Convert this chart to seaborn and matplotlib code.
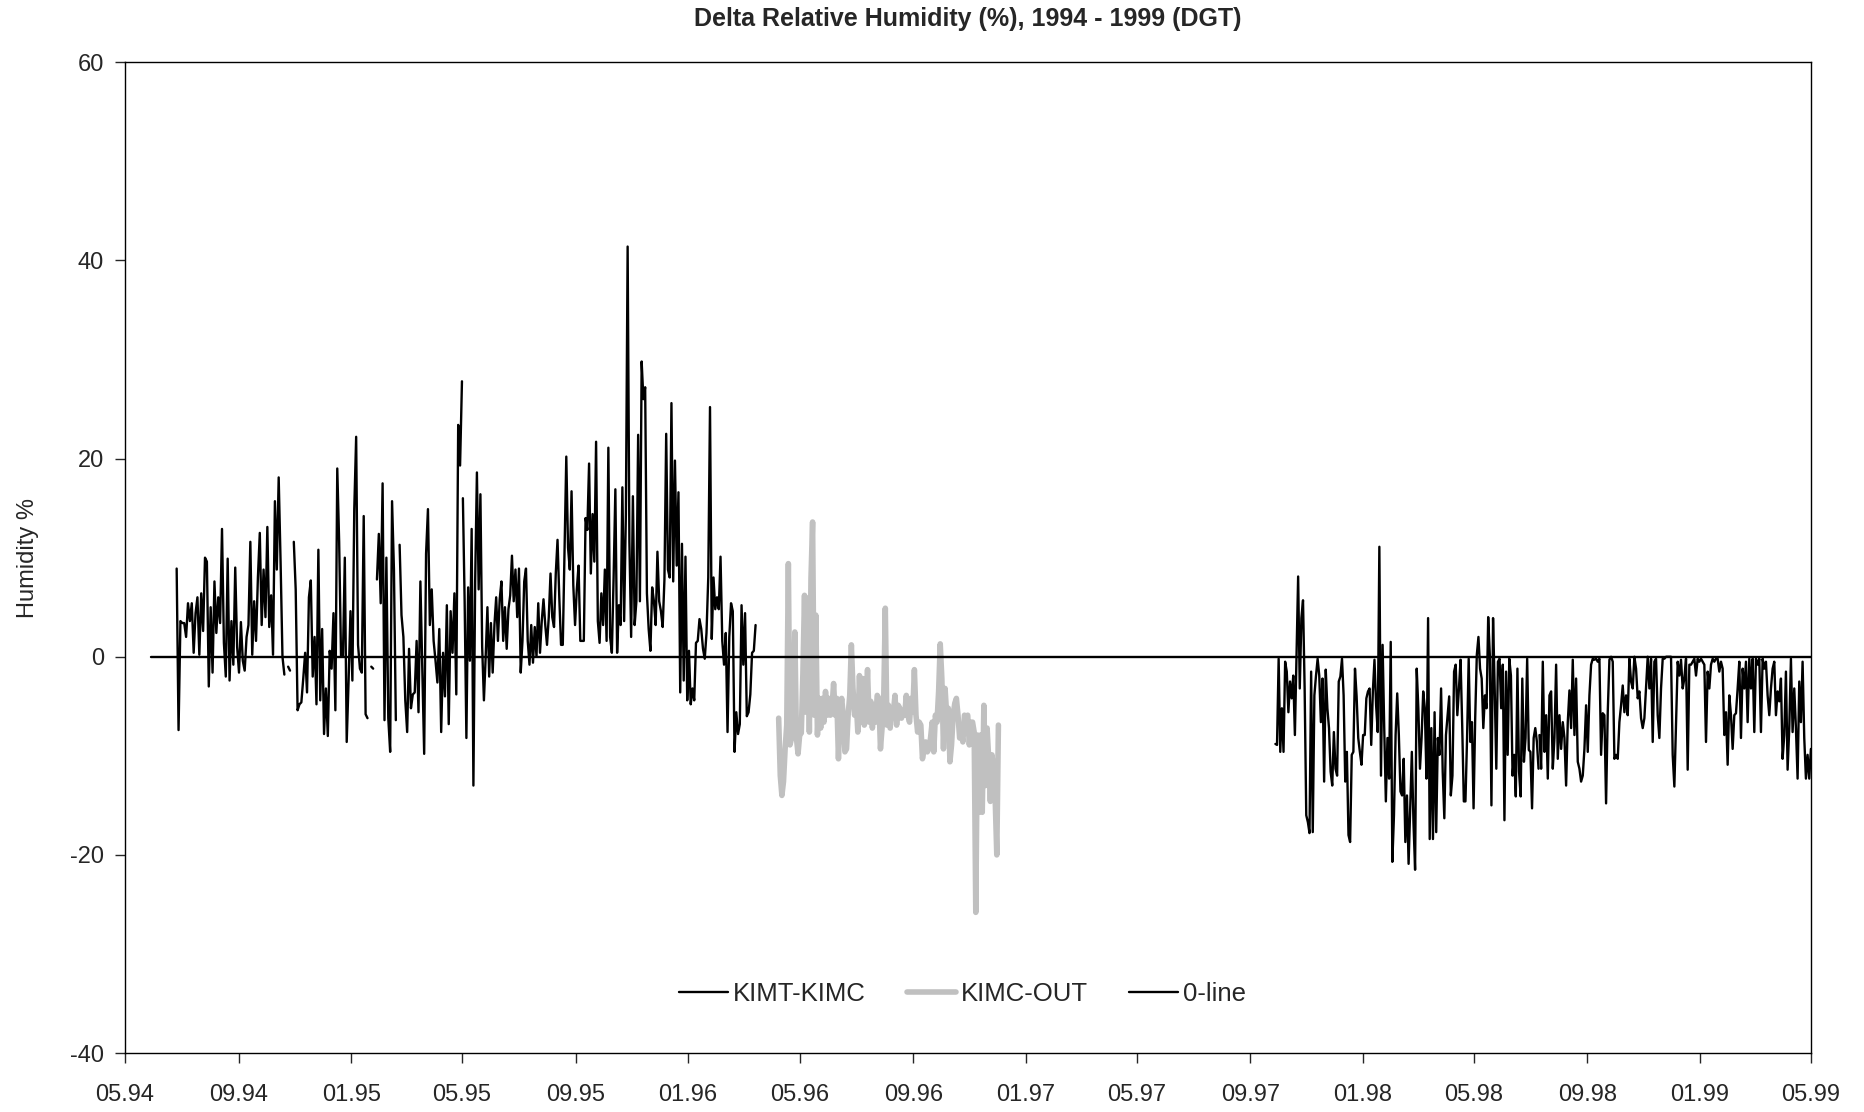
import pandas as pd
import numpy as np
import matplotlib
matplotlib.use("Agg")
import matplotlib.pyplot as plt
import matplotlib.dates as mdates
from matplotlib.lines import Line2D
import seaborn as sns

sns.set_style("ticks")
plt.rcParams["font.family"] = ["Liberation Sans", "DejaVu Sans"]
plt.rcParams["axes.unicode_minus"] = False

nan = np.nan

# KIMT-KIMC, first stretch (06.94 - 05.95)
kimt_a_start, kimt_a_end = "1994-06-26", "1995-05-01"
kimt_a = [
    8.9, -7.4, 3.6, 3.4, 3.4, 2.0, 5.4, 3.6, 5.4, 0.4, 4.4, 6.0, 0.2, 6.4, 2.6, 10.0,
    9.6, -3.0, 5.0, -1.6, 7.6, 2.4, 6.0, 3.4, 12.9, 1.4, -2.0, 9.9, -2.4, 3.6, -0.8,
    9.0, 1.0, -1.6, 3.5, -0.4, -1.4, 2.0, 3.2, 11.6, 0.2, 5.6, 1.6, 8.0, 12.5, 3.2,
    8.8, 4.0, 13.1, 3.0, 6.2, 0.2, 15.7, 8.8, 18.1, 9.6, 0.0, -1.8, nan, -1.0, -1.4,
    nan, 11.6, 6.8, -5.4, -4.8, -4.6, -2.2, 0.4, -3.6, 6.0, 7.7, -2.0, 2.0, -4.8, 10.8,
    -4.4, 2.8, -7.8, -3.2, -8.0, 0.6, -1.2, 4.4, -5.4, 19.0, 11.6, 0.0, 0.0, 10.0, -8.6,
    -2.4, 4.6, -2.4, 14.9, 22.2, 1.2, -1.2, -1.6, 14.2, -5.8, -6.2, nan, -1.0, -1.2, nan,
    7.8, 12.4, 5.4, 17.5, -6.4, 10.0, -6.2, -9.6, 15.7, 8.8, -6.4, nan, 11.3, 4.2, 2.0,
    -4.4, -7.6, 0.8, -5.2, -3.8, -3.6, 1.6, -5.6, 7.6, -1.2, -9.8, 10.4, 14.9, 3.2, 6.8,
    1.6, -0.4, -2.6, 2.8, -7.6, 0.4, -4.0, 5.2, -6.8, 4.6, 0.4, 6.4, -3.8, 23.4, 19.3, 27.8,
]

# KIMT-KIMC, second stretch (05.95 - 03.96)
kimt_b_start, kimt_b_end = "1995-05-02", "1996-03-14"
kimt_b = [
    16.0, 5.6, -8.2, 7.0, -0.4, 12.9, -13.0, 7.6, 18.6, 6.8, 16.4, 1.0, -4.4, 0.0, 5.0,
    -2.0, 3.4, -1.6, 3.2, 6.0, 1.6, 5.8, 7.6, 1.6, 5.0, 0.8, 4.8, 6.2, 10.2, 5.6, 8.8,
    4.0, 8.9, -1.6, 1.6, 7.6, 8.9, 1.6, -0.8, 3.2, -0.6, 3.0, 0.0, 5.4, 0.4, 3.6, 5.8,
    3.2, 1.2, 4.0, 8.4, 4.0, 3.0, 8.4, 11.8, 6.0, 1.2, 1.2, 11.0, 20.2, 11.0, 8.8, 16.7,
    7.2, 3.2, 6.8, 9.2, 1.6, 1.6, 1.6, 14.0, 12.8, 19.5, 8.4, 14.4, 9.6, 21.7, 3.6, 1.4,
    6.4, 3.2, 8.8, 1.6, 21.1, 2.0, 0.4, 8.0, 16.9, 0.4, 5.2, 3.2, 17.1, 3.6, 14.4, 41.4,
    11.6, 2.0, 16.2, 3.2, 5.6, 22.4, 5.6, 29.8, 26.0, 27.2, 6.4, 2.8, 0.6, 7.0, 5.6, 3.2,
    10.6, 5.6, 4.6, 3.0, 7.8, 22.5, 8.8, 8.0, 25.6, 7.6, 19.8, 9.2, 16.6, -3.6, 11.4,
    -2.4, 10.1, -4.4, 0.6, -4.8, -3.2, -4.4, 1.4, 1.6, 3.8, 2.8, 0.8, -0.2, 2.4, 8.0,
    25.2, 1.8, 8.0, 4.8, 6.0, 4.8, 10.1, 1.6, -0.8, 2.4, -7.6, 2.0, 5.4, 4.6, -9.6, -5.6,
    -7.8, -6.8, 5.2, -0.8, 4.4, -6.0, -5.6, -3.8, 0.4, 0.6, 3.2,
]

# KIMC-OUT (04.96 - 12.96)
kimc_start, kimc_end = "1996-04-08", "1996-12-02"
kimc_out = [
    -6.2, -12.0, -14.0, -12.6, -9.3, -6.9, 9.4, -8.9, -8.2, -7.2, 2.5, -8.2, -9.8, -7.9,
    -7.7, -1.7, 6.2, -5.6, 5.9, -7.6, 7.9, 13.6, -5.9, 4.2, -7.9, -4.2, -7.2, -4.2, -6.6,
    -3.5, -5.9, -4.2, -5.9, -5.2, -2.7, -5.9, -4.2, -10.3, -5.6, -4.2, -5.9, -9.6, -9.3,
    -5.9, -3.9, 1.2, -3.2, -5.9, -4.5, -7.6, -1.9, -6.6, -2.2, -6.9, -5.6, -1.3, -6.6,
    -4.5, -7.2, -5.2, -6.6, -3.9, -4.2, -9.3, -7.2, -4.5, 4.9, -6.9, -4.9, -7.2, -5.2,
    -5.6, -3.9, -6.9, -4.9, -5.2, -6.2, -5.6, -5.9, -3.9, -5.9, -6.6, -4.2, -5.6, -1.3,
    -5.9, -7.6, -6.6, -6.9, -10.3, -9.3, -8.6, -9.6, -9.3, -8.2, -6.6, -9.6, -5.9, -6.6,
    -3.5, 1.3, -2.2, -9.3, -3.2, -5.9, -5.2, -10.6, -8.9, -5.9, -4.7, -4.2, -5.9, -8.2,
    -7.6, -8.6, -5.9, -6.2, -5.9, -8.9, -6.6, -6.6, -7.6, -25.8, -7.9, -15.7, -7.9, -15.7,
    -4.9, -13.0, -7.2, -10.3, -14.6, -9.9, -11.3, -14.3, -20.0, -6.9,
]

# KIMT-KIMC, third stretch (09.97 - 07.98)
kimt_c_start, kimt_c_end = "1997-09-28", "1998-07-10"
kimt_c = [
    -8.8, -8.9, -0.2, -9.6, -5.2, -9.6, -0.5, -1.5, -5.6, -2.5, -4.2, -1.9, -7.9, 0.2,
    8.1, -3.2, 3.9, 5.7, -3.2, -16.0, -16.7, -17.8, -1.5, -17.7, -3.9, -1.9, -0.2, -1.9,
    -6.6, -2.2, -12.6, -1.3, -5.2, -7.2, -11.6, -13.0, -7.6, -11.3, -12.0, -2.5, -2.0,
    -0.2, -3.9, -12.6, -9.6, -18.0, -18.7, -9.9, -9.6, -1.2, -4.0, -8.2, -9.6, -10.9,
    -7.9, -7.9, -4.2, -3.5, -3.2, -8.9, -3.5, -0.3, -4.9, -7.6, 11.1, -12.0, 1.2, -7.2,
    -14.6, -8.2, -12.3, 1.5, -20.7, -16.0, -7.9, -3.7, -7.9, -13.6, -14.0, -10.3, -18.7,
    -14.0, -20.9, -15.3, -9.6, -16.7, -21.5, -1.2, -5.2, -11.3, -8.2, -3.5, -5.2, -12.3,
    3.9, -18.4, -7.2, -18.4, -5.6, -17.7, -8.2, -9.9, -3.2, -11.6, -16.3, -7.9, -5.9,
    -4.0, -14.0, -12.0, -1.5, -0.8, -5.9, -3.2, -0.3, -6.9, -14.6, -14.6, -8.2, -0.2,
    -8.6, -6.6, -15.3, -6.2, 0.2, 2.0, -1.2, -2.2, -7.2, -3.9, -5.2, 4.0, 0.2, -15.0,
    3.9, -3.2, -11.3, -0.5, -0.2, -5.2, -0.8, -16.5, -1.5, -9.9, -0.2, -1.9, -12.0, -9.9,
    -14.1, -1.2, -11.6, -14.1, -2.2, -10.6, -8.2, -0.2, -9.4, -9.6, -15.3, -8.2, -7.2,
    -8.6, -11.3,
]

# KIMT-KIMC, fourth stretch (07.98 - 05.99)
kimt_d_start, kimt_d_end = "1998-07-11", "1999-05-01"
kimt_d = [
    -7.9, -11.3, -0.5, -9.6, -5.9, -12.3, -3.9, -3.5, -11.3, -8.2, -0.8, -10.3, -5.9,
    -9.3, -6.6, -8.2, -13.0, -6.6, -3.4, -7.2, -0.3, -7.9, -2.2, -10.6, -11.3, -12.6,
    -12.0, -9.3, -4.9, -9.6, -3.9, -0.8, -0.2, -0.3, -0.2, -0.5, -0.2, -9.9, -5.7, -5.9,
    -14.8, -5.6, -0.3, 0.0, -0.5, -10.3, -9.9, -10.3, -6.6, -4.9, -2.9, -5.6, -3.9, -5.9,
    -0.2, -2.5, -3.2, 0.0, -1.2, -4.2, -3.5, -6.2, -7.2, -6.2, -3.2, 0.0, -3.2, -0.2,
    -8.6, -0.5, -0.2, -5.9, -8.2, -3.2, -0.2, -0.2, 0.0, 0.0, 0.0, 0.0, -9.9, -13.1,
    -6.6, -0.5, -1.9, -0.3, -3.2, -2.2, -0.2, -11.4, -0.8, -0.8, -0.5, -0.2, -1.9, -0.2,
    -0.5, -0.2, -0.5, -0.8, -8.6, -1.5, -3.2, -0.8, -0.2, -0.5, -0.2, -0.2, -1.5, -0.5,
    -1.2, -7.9, -5.6, -10.9, -3.9, -5.9, -9.3, -5.9, -5.7, -3.2, -0.5, -8.2, -1.2, -3.2,
    -0.5, -6.6, -0.2, -3.2, -0.2, -7.6, -0.2, -0.8, -0.2, -7.6, -0.2, -1.2, -0.5, -3.9,
    -5.9, -3.2, -1.2, -0.5, -5.9, -3.5, -4.5, -2.2, -10.3, -7.9, -1.5, -11.4, -7.2, -0.2,
    -7.6, -3.2, -7.2, -12.3, -2.5, -6.6, -0.5, -8.2, -12.3, -9.9, -12.3, -9.3,
]

zero_dates = ["1994-05-29", "1999-05-01"]
zero_vals = [0, 0]

x_ticks = pd.date_range("1994-05-01", "1999-05-01", freq="4MS")


def stretch(name, values, start, end):
    df = pd.DataFrame({
        "date": pd.date_range(start, end, periods=len(values)),
        "value": values,
    })
    # a missing day breaks the line
    df["piece"] = name + "-" + df["value"].isna().cumsum().astype(str)
    return df.dropna()


kimt = pd.concat([
    stretch("a", kimt_a, kimt_a_start, kimt_a_end),
    stretch("b", kimt_b, kimt_b_start, kimt_b_end),
    stretch("c", kimt_c, kimt_c_start, kimt_c_end),
    stretch("d", kimt_d, kimt_d_start, kimt_d_end),
])
kimc = stretch("k", kimc_out, kimc_start, kimc_end)
zero = pd.DataFrame({"date": pd.to_datetime(zero_dates), "value": zero_vals})

fig = plt.figure(figsize=(18.65, 11.12), dpi=100)
ax = fig.add_axes([0.067, 0.053, 0.904, 0.891])

sns.lineplot(data=kimt, x="date", y="value", units="piece", estimator=None,
             color="black", lw=1.7, ax=ax, legend=False)
sns.lineplot(data=kimc, x="date", y="value", units="piece", estimator=None,
             color="#c0c0c0", lw=4.0, ax=ax, legend=False)
sns.lineplot(data=zero, x="date", y="value", color="black", lw=1.7, ax=ax,
             legend=False)

ax.set_xlim(pd.Timestamp("1994-05-01"), pd.Timestamp("1999-05-01"))
ax.set_xticks(x_ticks)
ax.xaxis.set_major_formatter(mdates.DateFormatter("%m.%y"))
ax.set_ylim(-40, 60)
ax.set_yticks(range(-40, 61, 20))
ax.tick_params(axis="both", labelsize=17, length=7, width=1, direction="out")
ax.tick_params(axis="x", pad=15)
ax.tick_params(axis="y", pad=8)
for side in ["top", "right", "left", "bottom"]:
    ax.spines[side].set_visible(True)
    ax.spines[side].set_color("black")
    ax.spines[side].set_linewidth(1)

ax.set_xlabel("")
ax.set_ylabel("Humidity %", fontsize=17)
ax.yaxis.set_label_coords(-0.051, 0.5)

fig.text(0.519, 0.983, "Delta Relative Humidity (%), 1994 - 1999 (DGT)",
         ha="center", va="center", fontsize=18, fontweight="bold")

handles = [
    Line2D([], [], color="black", lw=1.7),
    Line2D([], [], color="#c0c0c0", lw=4.0),
    Line2D([], [], color="black", lw=1.7),
]
ax.legend(handles, ["KIMT-KIMC", "KIMC-OUT", "0-line"], loc="center",
          bbox_to_anchor=(0.497, 0.06), ncol=3, frameon=False, fontsize=18.5,
          handlelength=1.9, handletextpad=0.2, columnspacing=1.6)

fig.savefig("out.png", dpi=100)
